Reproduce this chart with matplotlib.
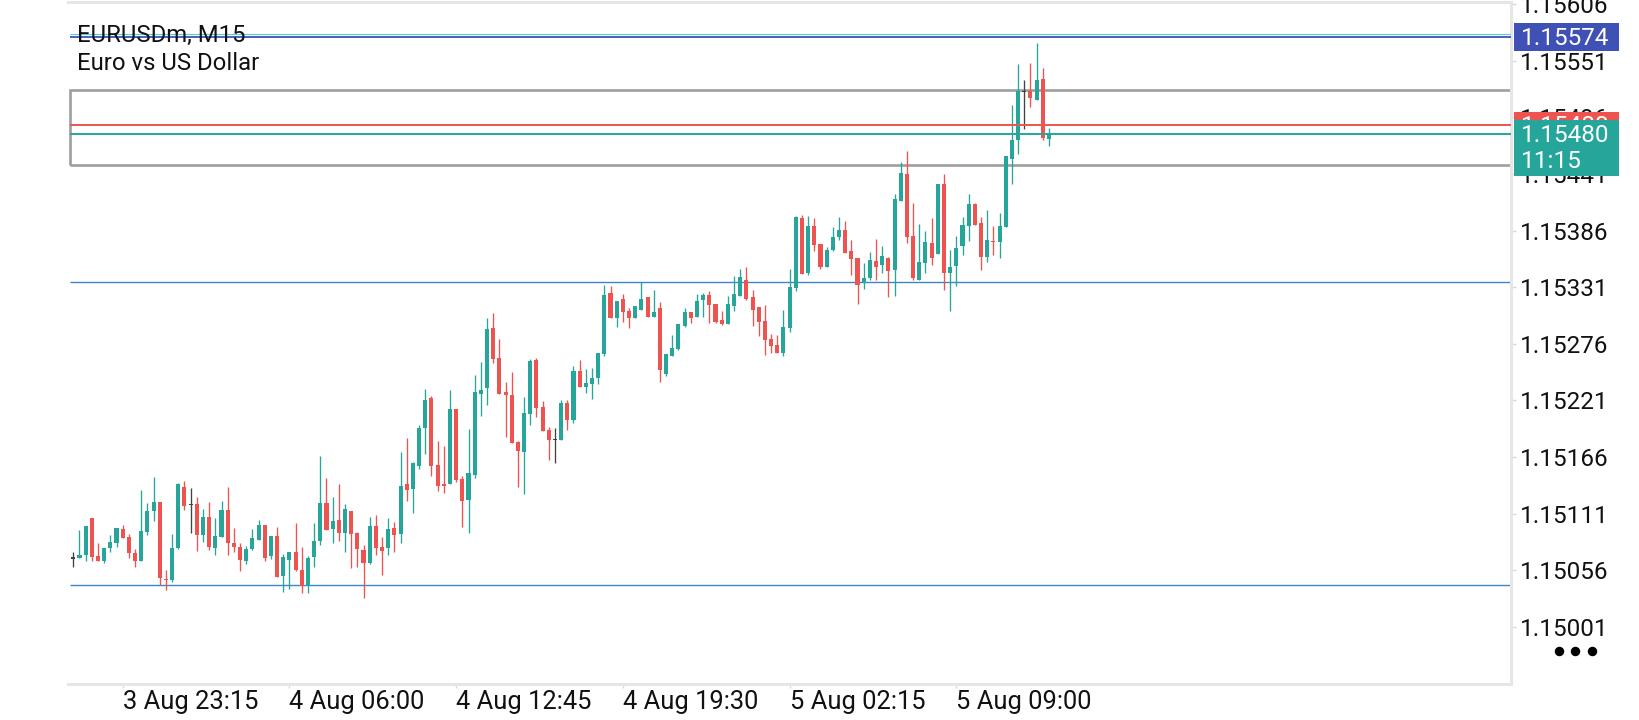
import matplotlib
matplotlib.use("Agg")
import matplotlib.pyplot as plt
from matplotlib.patches import Rectangle
from matplotlib.lines import Line2D
import numpy as np

plt.rcParams['font.family'] = ['Roboto', 'DejaVu Sans']

# chart data
symbol = "EURUSDm, M15"
description = "Euro vs US Dollar"

opens = [
    1.15068, 1.15068, 1.15071, 1.15107, 1.15070, 1.15065, 1.15078, 1.15083, 1.15096, 1.15088,
    1.15073, 1.15065, 1.15093, 1.15114, 1.15122, 1.15048, 1.15047, 1.15078, 1.15137, 1.15120,
    1.15120, 1.15090, 1.15108, 1.15078, 1.15088, 1.15115, 1.15083, 1.15079, 1.15065, 1.15077,
    1.15086, 1.15100, 1.15070, 1.15089, 1.15051, 1.15066, 1.15074, 1.15056, 1.15041, 1.15069,
    1.15085, 1.15121, 1.15096, 1.15105, 1.15092, 1.15114, 1.15092, 1.15076, 1.15063, 1.15099,
    1.15079, 1.15078, 1.15097, 1.15091, 1.15140, 1.15135, 1.15157, 1.15194, 1.15223, 1.15158,
    1.15140, 1.15140, 1.15213, 1.15145, 1.15124, 1.15149, 1.15227, 1.15233, 1.15291, 1.15262,
    1.15229, 1.15226, 1.15181, 1.15171, 1.15208, 1.15260, 1.15215, 1.15192, 1.15183, 1.15183,
    1.15219, 1.15202, 1.15250, 1.15234, 1.15237, 1.15243, 1.15266, 1.15325, 1.15301, 1.15320,
    1.15308, 1.15301, 1.15309, 1.15321, 1.15302, 1.15311, 1.15247, 1.15264, 1.15271, 1.15293,
    1.15307, 1.15302, 1.15319, 1.15323, 1.15315, 1.15299, 1.15295, 1.15313, 1.15322, 1.15338,
    1.15321, 1.15312, 1.15298, 1.15281, 1.15275, 1.15267, 1.15291, 1.15330, 1.15398, 1.15345,
    1.15390, 1.15373, 1.15351, 1.15367, 1.15380, 1.15387, 1.15366, 1.15359, 1.15335, 1.15340,
    1.15356, 1.15353, 1.15359, 1.15348, 1.15415, 1.15441, 1.15381, 1.15338, 1.15354, 1.15374,
    1.15363, 1.15431, 1.15345, 1.15352, 1.15371, 1.15390, 1.15412, 1.15393, 1.15360, 1.15376,
    1.15375, 1.15389, 1.15455, 1.15474, 1.15521, 1.15521, 1.15513, 1.15533, 1.15475,
]
highs = [
    1.15074, 1.15095, 1.15099, 1.15107, 1.15083, 1.15078, 1.15090, 1.15097, 1.15100, 1.15091,
    1.15077, 1.15134, 1.15121, 1.15147, 1.15122, 1.15056, 1.15091, 1.15141, 1.15143, 1.15136,
    1.15127, 1.15116, 1.15122, 1.15107, 1.15123, 1.15137, 1.15097, 1.15083, 1.15080, 1.15096,
    1.15105, 1.15100, 1.15089, 1.15098, 1.15072, 1.15074, 1.15102, 1.15079, 1.15070, 1.15102,
    1.15167, 1.15146, 1.15127, 1.15140, 1.15120, 1.15114, 1.15093, 1.15081, 1.15108, 1.15110,
    1.15088, 1.15107, 1.15103, 1.15171, 1.15185, 1.15161, 1.15197, 1.15232, 1.15225, 1.15182,
    1.15177, 1.15231, 1.15213, 1.15148, 1.15193, 1.15246, 1.15258, 1.15301, 1.15306, 1.15281,
    1.15239, 1.15249, 1.15182, 1.15224, 1.15261, 1.15262, 1.15220, 1.15195, 1.15194, 1.15221,
    1.15221, 1.15254, 1.15260, 1.15252, 1.15253, 1.15267, 1.15333, 1.15332, 1.15318, 1.15324,
    1.15311, 1.15313, 1.15336, 1.15321, 1.15328, 1.15317, 1.15266, 1.15285, 1.15295, 1.15311,
    1.15307, 1.15324, 1.15325, 1.15327, 1.15315, 1.15308, 1.15322, 1.15342, 1.15349, 1.15351,
    1.15328, 1.15312, 1.15314, 1.15286, 1.15285, 1.15309, 1.15349, 1.15400, 1.15401, 1.15400,
    1.15398, 1.15373, 1.15370, 1.15389, 1.15399, 1.15395, 1.15377, 1.15359, 1.15354, 1.15365,
    1.15378, 1.15371, 1.15360, 1.15421, 1.15453, 1.15463, 1.15413, 1.15392, 1.15386, 1.15398,
    1.15431, 1.15441, 1.15367, 1.15381, 1.15399, 1.15421, 1.15413, 1.15399, 1.15406, 1.15390,
    1.15403, 1.15458, 1.15508, 1.15548, 1.15532, 1.15549, 1.15568, 1.15544, 1.15486,
]
lows = [
    1.15059, 1.15068, 1.15065, 1.15065, 1.15065, 1.15063, 1.15074, 1.15079, 1.15087, 1.15068,
    1.15059, 1.15065, 1.15090, 1.15104, 1.15042, 1.15037, 1.15045, 1.15077, 1.15115, 1.15092,
    1.15075, 1.15084, 1.15076, 1.15071, 1.15088, 1.15071, 1.15074, 1.15055, 1.15062, 1.15076,
    1.15086, 1.15065, 1.15067, 1.15050, 1.15035, 1.15038, 1.15055, 1.15034, 1.15034, 1.15059,
    1.15081, 1.15095, 1.15083, 1.15085, 1.15074, 1.15058, 1.15059, 1.15029, 1.15062, 1.15071,
    1.15052, 1.15071, 1.15074, 1.15083, 1.15123, 1.15112, 1.15154, 1.15169, 1.15148, 1.15133,
    1.15131, 1.15140, 1.15142, 1.15098, 1.15092, 1.15146, 1.15206, 1.15217, 1.15257, 1.15227,
    1.15186, 1.15180, 1.15137, 1.15130, 1.15197, 1.15205, 1.15191, 1.15163, 1.15160, 1.15183,
    1.15192, 1.15199, 1.15234, 1.15228, 1.15222, 1.15237, 1.15264, 1.15301, 1.15292, 1.15297,
    1.15291, 1.15301, 1.15309, 1.15302, 1.15302, 1.15239, 1.15245, 1.15264, 1.15270, 1.15292,
    1.15296, 1.15302, 1.15302, 1.15296, 1.15296, 1.15294, 1.15295, 1.15308, 1.15322, 1.15319,
    1.15293, 1.15284, 1.15265, 1.15267, 1.15267, 1.15264, 1.15287, 1.15327, 1.15344, 1.15343,
    1.15366, 1.15349, 1.15351, 1.15366, 1.15377, 1.15364, 1.15343, 1.15315, 1.15329, 1.15338,
    1.15338, 1.15345, 1.15321, 1.15322, 1.15415, 1.15374, 1.15338, 1.15338, 1.15345, 1.15353,
    1.15363, 1.15328, 1.15308, 1.15332, 1.15362, 1.15376, 1.15391, 1.15348, 1.15355, 1.15362,
    1.15359, 1.15389, 1.15431, 1.15460, 1.15485, 1.15506, 1.15513, 1.15474, 1.15468,
]
closes = [
    1.15068, 1.15071, 1.15099, 1.15069, 1.15065, 1.15078, 1.15084, 1.15097, 1.15087, 1.15073,
    1.15065, 1.15094, 1.15114, 1.15122, 1.15049, 1.15047, 1.15078, 1.15140, 1.15119, 1.15120,
    1.15090, 1.15108, 1.15079, 1.15089, 1.15115, 1.15083, 1.15079, 1.15066, 1.15077, 1.15087,
    1.15100, 1.15068, 1.15089, 1.15050, 1.15069, 1.15074, 1.15056, 1.15041, 1.15068, 1.15085,
    1.15121, 1.15095, 1.15104, 1.15092, 1.15116, 1.15091, 1.15077, 1.15063, 1.15099, 1.15078,
    1.15075, 1.15096, 1.15090, 1.15138, 1.15134, 1.15160, 1.15194, 1.15221, 1.15157, 1.15138,
    1.15138, 1.15213, 1.15144, 1.15123, 1.15151, 1.15229, 1.15231, 1.15290, 1.15261, 1.15227,
    1.15226, 1.15180, 1.15172, 1.15209, 1.15259, 1.15214, 1.15191, 1.15183, 1.15183, 1.15219,
    1.15202, 1.15250, 1.15234, 1.15238, 1.15243, 1.15267, 1.15323, 1.15301, 1.15318, 1.15307,
    1.15301, 1.15313, 1.15320, 1.15302, 1.15307, 1.15251, 1.15266, 1.15272, 1.15295, 1.15307,
    1.15301, 1.15318, 1.15323, 1.15314, 1.15297, 1.15295, 1.15315, 1.15324, 1.15341, 1.15320,
    1.15309, 1.15297, 1.15280, 1.15274, 1.15267, 1.15292, 1.15331, 1.15399, 1.15344, 1.15390,
    1.15372, 1.15351, 1.15367, 1.15380, 1.15387, 1.15364, 1.15358, 1.15333, 1.15340, 1.15357,
    1.15351, 1.15361, 1.15347, 1.15417, 1.15442, 1.15380, 1.15340, 1.15355, 1.15375, 1.15359,
    1.15431, 1.15345, 1.15351, 1.15369, 1.15391, 1.15412, 1.15391, 1.15360, 1.15377, 1.15375,
    1.15390, 1.15458, 1.15474, 1.15521, 1.15521, 1.15515, 1.15532, 1.15476, 1.15480,
]

time_ticks = [8, 35, 62, 89, 116, 143]
time_labels = ["3 Aug 23:15", "4 Aug 06:00", "4 Aug 12:45",
               "4 Aug 19:30", "5 Aug 02:15", "5 Aug 09:00"]
price_ticks = [1.15001, 1.15056, 1.15111, 1.15166, 1.15221, 1.15276,
               1.15331, 1.15386, 1.15441, 1.15496, 1.15551, 1.15606]

alert_light = 1.15577
alert_price = 1.15574
zone_low, zone_high = 1.15450, 1.15522
ask_price = 1.15488
bid_price = 1.15480
support_lines = [1.15336, 1.15042]
bar_timer = "11:15"

UP = "#26a69a"
DOWN = "#ef5350"
DOJI = "#424242"
W, H = 1640, 720
FS = 17.5


def fx(px):
    return px / W


def fy(py):
    return 1 - py / H


fig = plt.figure(figsize=(W / 100, H / 100), dpi=100)
ax = fig.add_axes([fx(68), fy(684), (1511 - 68) / W, (684 - 2) / H])

o = np.array(opens)
c = np.array(closes)
x = np.arange(len(o))
colors = np.where(c > o, UP, np.where(c < o, DOWN, DOJI))

ax.vlines(x, lows, highs, colors=colors, lw=0.95, zorder=3)
body_h = np.maximum(np.abs(c - o), 0.000011)
body_b = np.where(c == o, o - body_h / 2, np.minimum(o, c))
ax.bar(x, body_h, bottom=body_b, width=0.66, color=colors, lw=0, zorder=4)

x0 = -0.55
x_right = -0.86 + 1443 / 6.175
# horizontal objects on the chart
ax.hlines(alert_light, x0, x_right, color="#4dd0e1", lw=0.8, zorder=5)
ax.hlines(alert_price, x0, x_right, color="#3f51b5", lw=1.3, zorder=5)
ax.add_patch(Rectangle((x0, zone_low), 400, zone_high - zone_low, fill=False,
                       ec="#9e9e9e", lw=1.9, zorder=2))
ax.hlines(ask_price, x0, x_right, color=DOWN, lw=1.4, zorder=5)
ax.hlines(bid_price, x0, x_right, color=UP, lw=1.4, zorder=5)
for lvl in support_lines:
    ax.hlines(lvl, x0, x_right, color="#3a86c8", lw=1.0, zorder=2)

ax.set_xlim(-0.86, x_right)
ax.set_ylim(1.149457, 1.156079)

for side in ["top", "right", "bottom"]:
    ax.spines[side].set_color("#e6e6e6")
    ax.spines[side].set_linewidth(2.2)
ax.spines["left"].set_visible(False)

ax.yaxis.tick_right()
ax.set_yticks(price_ticks, [f"{p:.5f}" for p in price_ticks])
ax.tick_params(axis="y", length=3.6, width=1, color="#d9d9d9", pad=2.5,
               labelsize=FS, labelcolor="#111111")
ax.set_xticks(time_ticks, time_labels, ha="left")
ax.tick_params(axis="x", length=3.2, width=1, color="#d9d9d9", pad=1.0,
               labelsize=18.4, labelcolor="#111111")

# symbol name in the corner
fig.text(fx(77), fy(42), symbol, fontsize=17.2, va="baseline", color="#111111")
fig.text(fx(77), fy(70), description, fontsize=17.2, va="baseline", color="#111111")


def price_box(top, bottom, color, z):
    fig.add_artist(Rectangle((fx(1514), fy(bottom)), (1619 - 1514) / W,
                             (bottom - top) / H, transform=fig.transFigure,
                             color=color, lw=0, zorder=z))


price_box(23.3, 50.7, "#3f51b5", 5)
fig.text(fx(1521), fy(45), f"{alert_price:.5f}", fontsize=FS, color="white",
         va="baseline", zorder=6)
# ask box sits under the bid box
price_box(112.3, 139.7, DOWN, 5)
fig.text(fx(1521), fy(133), f"{ask_price:.5f}", fontsize=FS, color="white",
         va="baseline", zorder=6)
price_box(120, 175.7, UP, 7)
fig.text(fx(1521), fy(142), f"{bid_price:.5f}", fontsize=FS, color="white",
         va="baseline", zorder=8)
fig.text(fx(1521), fy(168.5), bar_timer, fontsize=FS, color="white",
         va="baseline", zorder=8)

fig.add_artist(Line2D([fx(1559), fx(1575.5), fx(1592)], [fy(651)] * 3,
                      transform=fig.transFigure, marker="o", ls="none",
                      ms=5.8, color="black", zorder=6))

fig.savefig("out.png", dpi=100, facecolor="white")
